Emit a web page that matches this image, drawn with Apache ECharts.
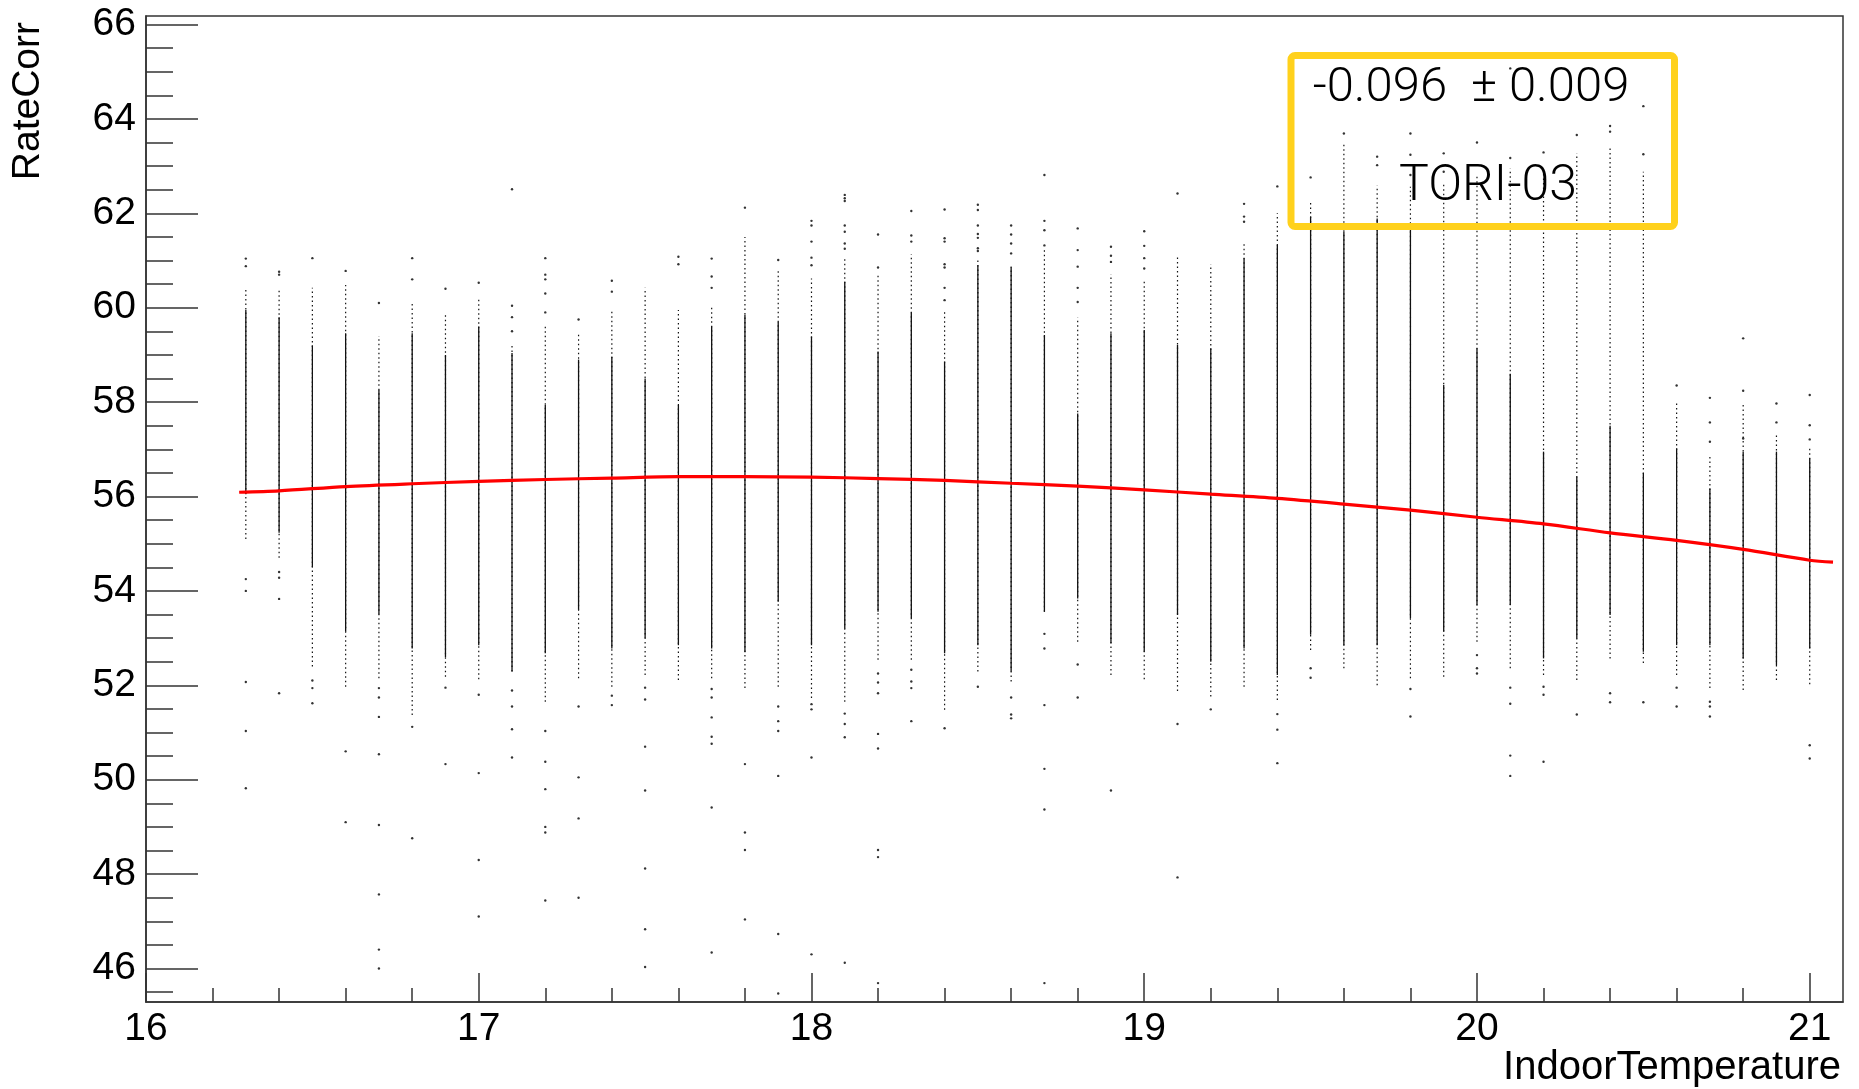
<!DOCTYPE html>
<html>
<head>
<meta charset="utf-8">
<script src="https://cdn.jsdelivr.net/npm/echarts@6/dist/echarts.min.js"></script>
<style>
html,body{margin:0;padding:0;background:#fff;}
#chart{width:1859px;height:1089px;}
</style>
</head>
<body>
<div id="chart"></div>
<script>
// ---------------- data ----------------
const colX   = [16.3,16.4,16.5,16.6,16.7,16.8,16.9,17.0,17.1,17.2,17.3,17.4,17.5,17.6,17.7,17.8,
                17.9,18.0,18.1,18.2,18.3,18.4,18.5,18.6,18.7,18.8,18.9,19.0,19.1,19.2,19.3,19.4,
                19.5,19.6,19.7,19.8,19.9,20.0,20.1,20.2,20.3,20.4,20.5,20.6,20.7,20.8,20.9,21.0];
// upper end of the sparse (dotted) part of each column
const spanHi = [60.40,60.40,60.42,60.48,59.40,60.10,59.90,60.20,59.20,59.60,59.44,59.94,60.42,59.95,60.00,61.50,
                60.83,60.62,61.05,60.69,61.13,59.95,61.00,60.87,61.26,59.79,60.71,60.59,61.12,60.92,61.38,62.00,
                62.23,63.45,62.59,62.56,62.67,62.81,62.95,62.88,63.27,63.38,62.88,57.97,56.84,58.00,57.34,57.02];
// dense core of each column
const coreHi = [59.95,59.80,59.20,59.46,58.26,59.46,59.00,59.60,59.04,57.94,58.90,58.96,58.50,57.94,59.60,59.85,
                59.70,59.39,60.55,59.07,59.90,58.86,60.90,60.87,59.42,57.76,59.46,59.53,59.21,59.14,61.05,61.33,
                61.93,61.61,61.89,61.68,58.36,59.14,58.60,56.95,56.42,57.50,56.50,57.02,56.17,56.95,56.95,56.81];
const coreLo = [56.05,55.23,54.50,53.14,53.50,52.78,52.60,52.85,52.29,52.68,53.60,52.78,53.00,52.85,52.78,52.70,
                53.77,52.85,53.20,53.56,53.42,52.68,52.85,52.29,53.56,53.84,52.89,52.71,53.49,52.50,52.78,52.22,
                53.07,52.85,52.85,53.42,53.14,53.70,53.70,52.57,52.99,53.49,52.71,52.85,52.85,52.57,52.43,52.78];
// lower end of the sparse (dotted) part of each column
const spanLo = [55.10,54.70,52.40,51.97,52.15,51.37,52.18,52.13,52.29,51.65,52.15,51.97,52.22,52.11,52.15,51.94,
                51.97,51.73,51.65,52.54,52.54,51.48,52.29,52.08,53.56,52.92,52.22,52.13,51.88,51.76,51.97,51.69,
                52.75,52.36,52.00,52.15,52.18,52.92,52.36,52.22,52.11,52.57,52.47,52.22,51.94,51.90,52.11,52.02];
// isolated points
const outliers = [
 [16.3,61.04],[16.3,60.88],[16.3,54.25],[16.3,54.0],[16.3,52.07],[16.3,51.03],[16.3,49.82],
 [16.4,60.76],[16.4,60.70],[16.4,54.40],[16.4,54.28],[16.4,53.83],[16.4,51.83],
 [16.5,61.05],[16.5,52.10],[16.5,51.94],[16.5,51.62],
 [16.6,60.78],[16.6,50.60],[16.6,49.10],
 [16.7,60.10],[16.7,51.94],[16.7,51.74],[16.7,51.33],[16.7,50.54],[16.7,49.04],[16.7,47.57],[16.7,46.40],[16.7,46.00],
 [16.8,61.05],[16.8,60.60],[16.8,51.12],[16.8,48.76],
 [16.9,60.40],[16.9,51.95],[16.9,50.33],
 [17.0,60.53],[17.0,51.80],[17.0,50.14],[17.0,48.30],[17.0,47.10],
 [17.1,62.51],[17.1,60.04],[17.1,59.80],[17.1,59.50],[17.1,51.89],[17.1,51.55],[17.1,51.07],[17.1,50.47],
 [17.2,61.05],[17.2,60.70],[17.2,60.60],[17.2,60.30],[17.2,59.90],[17.2,51.03],[17.2,50.38],[17.2,49.80],[17.2,49.00],[17.2,48.88],[17.2,47.44],
 [17.3,59.75],[17.3,51.55],[17.3,50.05],[17.3,49.18],[17.3,47.50],
 [17.4,60.57],[17.4,60.34],[17.4,51.78],[17.4,51.58],
 [17.5,51.95],[17.5,51.70],[17.5,50.70],[17.5,49.77],[17.5,48.12],[17.5,46.83],[17.5,46.03],
 [17.6,61.08],[17.6,60.92],
 [17.7,61.04],[17.7,60.66],[17.7,60.42],[17.7,51.92],[17.7,51.74],[17.7,51.32],[17.7,50.91],[17.7,50.76],[17.7,49.41],[17.7,46.34],
 [17.8,62.12],[17.8,50.33],[17.8,48.88],[17.8,48.51],[17.8,47.04],
 [17.9,61.01],[17.9,51.55],[17.9,51.24],[17.9,51.03],[17.9,50.08],[17.9,46.73],[17.9,45.47],
 [18.0,61.84],[18.0,61.74],[18.0,61.40],[18.0,61.06],[18.0,60.90],[18.0,51.60],[18.0,51.49],[18.0,50.47],[18.0,46.30],
 [18.1,62.39],[18.1,62.32],[18.1,62.26],[18.1,61.74],[18.1,61.61],[18.1,61.36],[18.1,61.25],[18.1,51.40],[18.1,51.18],[18.1,50.90],[18.1,46.12],
 [18.2,61.55],[18.2,60.85],[18.2,52.25],[18.2,52.06],[18.2,51.83],[18.2,50.97],[18.2,50.66],[18.2,48.51],[18.2,48.36],[18.2,45.69],
 [18.3,62.05],[18.3,61.53],[18.3,61.40],[18.3,52.33],[18.3,52.08],[18.3,51.94],[18.3,51.24],
 [18.4,62.08],[18.4,61.47],[18.4,61.40],[18.4,60.92],[18.4,60.85],[18.4,60.42],[18.4,60.16],[18.4,51.09],
 [18.5,62.18],[18.5,62.07],[18.5,61.74],[18.5,61.56],[18.5,61.48],[18.5,61.26],[18.5,61.20],[18.5,51.97],
 [18.6,61.74],[18.6,61.55],[18.6,61.36],[18.6,61.15],[18.6,51.74],[18.6,51.38],[18.6,51.30],
 [18.7,62.81],[18.7,61.84],[18.7,61.64],[18.7,61.32],[18.7,53.09],[18.7,52.78],[18.7,51.58],[18.7,50.23],[18.7,49.37],[18.7,45.69],
 [18.8,61.68],[18.8,61.22],[18.8,60.87],[18.8,60.42],[18.8,60.12],[18.8,52.44],[18.8,51.74],
 [18.9,61.29],[18.9,61.10],[18.9,60.97],[18.9,49.77],
 [19.0,61.62],[19.0,61.31],[19.0,61.05],[19.0,60.83],
 [19.1,62.42],[19.1,51.18],[19.1,47.93],
 [19.2,51.49],
 [19.3,62.20],[19.3,61.93],[19.3,61.82],
 [19.4,62.57],[19.4,51.39],[19.4,51.06],[19.4,50.35],
 [19.5,62.76],[19.5,52.36],[19.5,52.16],
 [19.6,63.69],
 [19.7,63.20],[19.7,63.02],
 [19.8,63.69],[19.8,63.24],[19.8,62.81],[19.8,51.92],[19.8,51.34],
 [19.9,63.27],[19.9,62.88],
 [20.0,63.50],[20.0,52.64],[20.0,52.36],[20.0,52.25],
 [20.1,65.07],[20.1,63.17],[20.1,51.95],[20.1,51.61],[20.1,50.51],[20.1,50.08],
 [20.2,63.29],[20.2,51.97],[20.2,51.80],[20.2,50.38],
 [20.3,63.66],[20.3,51.38],
 [20.4,63.85],[20.4,63.73],[20.4,51.83],[20.4,51.64],
 [20.5,64.27],[20.5,63.25],[20.5,51.64],
 [20.6,58.35],[20.6,51.95],[20.6,51.55],
 [20.7,58.09],[20.7,57.57],[20.7,57.16],[20.7,51.65],[20.7,51.55],[20.7,51.34],
 [20.8,59.35],[20.8,58.24],[20.8,57.23],
 [20.9,57.97],[20.9,57.57],
 [21.0,58.15],[21.0,57.51],[21.0,57.21],[21.0,50.73],[21.0,50.45]
];
// fitted curve (red)
const fitX = [16.28,16.4,16.6,16.8,17.0,17.2,17.4,17.6,17.8,18.0,18.2,18.4,18.6,18.8,19.0,19.2,19.4,19.6,19.8,20.0,20.2,20.4,20.6,20.8,21.0,21.07];
const fitY = [56.09,56.12,56.21,56.27,56.32,56.36,56.39,56.42,56.42,56.41,56.38,56.34,56.28,56.22,56.14,56.05,55.96,55.84,55.71,55.56,55.42,55.23,55.07,54.88,54.65,54.61];
// axis ticks
const xTickLabels = [16,17,18,19,20,21];
const yTickLabels = [46,48,50,52,54,56,58,60,62,64,66];
const xRange = [16, 21.1];
const yRange = [45.29, 66.18];
const boxLines = ['-0.096  \u00b1 0.009', 'TORI-03'];
const xTitle = 'IndoorTemperature';
const yTitle = 'RateCorr';

// ---------------- building the option ----------------
const xMinor = [];
for (let i = 0; i < xTickLabels.length - 1; i++) {
  for (let k = 1; k < 5; k++) xMinor.push(+(xTickLabels[i] + k * 0.2).toFixed(2));
}
const yMinor = [45.5];
for (let i = 0; i < yTickLabels.length - 1; i++) {
  for (let k = 1; k < 4; k++) yMinor.push(+(yTickLabels[i] + k * 0.5).toFixed(2));
}

const spanData = colX.map((x, i) => [x, spanLo[i], spanHi[i]]);
const coreData = colX.map((x, i) => [x, coreLo[i], coreHi[i]]);
const fitData = fitX.map((x, i) => [x, fitY[i]]);

function segRenderer(width, dash) {
  return function (params, api) {
    const p1 = api.coord([api.value(0), api.value(1)]);
    const p2 = api.coord([api.value(0), api.value(2)]);
    return {
      type: 'line',
      shape: { x1: p1[0], y1: p1[1], x2: p2[0], y2: p2[1] },
      style: { stroke: '#111', lineWidth: width, lineDash: dash }
    };
  };
}

const axisColor = '#333';
const labelFont = 'Liberation Sans';

const chart = echarts.init(document.getElementById('chart'), null, { renderer: 'canvas' });
chart.setOption({
  animation: false,
  backgroundColor: '#fff',
  grid: { left: 146, right: 16, top: 16, bottom: 87, show: true, borderColor: axisColor, borderWidth: 1.5, backgroundColor: 'transparent' },
  xAxis: [
    {
      type: 'value', min: xRange[0], max: xRange[1], position: 'bottom',
      axisLine: { show: true, onZero: false, lineStyle: { color: axisColor, width: 1.5 } },
      axisTick: { show: true, inside: true, length: 29, customValues: xTickLabels, lineStyle: { color: axisColor, width: 1.5 } },
      axisLabel: { show: true, customValues: xTickLabels, margin: 8, color: '#000', fontSize: 39, fontFamily: labelFont, formatter: v => String(v) },
      splitLine: { show: false }
    },
    {
      type: 'value', min: xRange[0], max: xRange[1], position: 'bottom',
      axisLine: { show: false },
      axisTick: { show: true, inside: true, length: 14, customValues: xMinor, lineStyle: { color: axisColor, width: 1.5 } },
      axisLabel: { show: false },
      splitLine: { show: false }
    }
  ],
  yAxis: [
    {
      type: 'value', min: yRange[0], max: yRange[1], position: 'left',
      axisLine: { show: true, onZero: false, lineStyle: { color: axisColor, width: 1.5 } },
      axisTick: { show: true, inside: true, length: 52, customValues: yTickLabels, lineStyle: { color: axisColor, width: 1.5 } },
      axisLabel: { show: true, customValues: yTickLabels, margin: 10, color: '#000', fontSize: 39, fontFamily: labelFont, formatter: v => String(v) },
      splitLine: { show: false }
    },
    {
      type: 'value', min: yRange[0], max: yRange[1], position: 'left',
      axisLine: { show: false },
      axisTick: { show: true, inside: true, length: 27, customValues: yMinor, lineStyle: { color: axisColor, width: 1.5 } },
      axisLabel: { show: false },
      splitLine: { show: false }
    }
  ],
  series: [
    {
      type: 'custom', name: 'sparse', xAxisIndex: 0, yAxisIndex: 0,
      renderItem: segRenderer(1.2, [1.5, 3]),
      encode: { x: 0, y: [1, 2] },
      data: spanData, z: 2
    },
    {
      type: 'custom', name: 'dense', xAxisIndex: 0, yAxisIndex: 0,
      renderItem: segRenderer(1.3, null),
      encode: { x: 0, y: [1, 2] },
      data: coreData, z: 3
    },
    {
      type: 'scatter', name: 'points', xAxisIndex: 0, yAxisIndex: 0,
      symbol: 'circle', symbolSize: 2.4,
      itemStyle: { color: '#000' },
      data: outliers, z: 4
    },
    {
      type: 'line', name: 'fit', xAxisIndex: 0, yAxisIndex: 0,
      data: fitData, showSymbol: false, smooth: 0.3,
      lineStyle: { color: '#ff0000', width: 3.2 }, z: 5
    }
  ],
  graphic: [
    {
      type: 'rect', z: 10,
      shape: { x: 1291, y: 55.5, width: 383.5, height: 171, r: 4 },
      style: { fill: 'none', stroke: '#FFD11C', lineWidth: 7 }
    },
    {
      type: 'text', z: 11, x: 1471, y: 89,
      style: { text: boxLines[0], font: '300 49px Roboto', fill: '#000', align: 'center', verticalAlign: 'middle' }
    },
    {
      type: 'text', z: 11, x: 1488, y: 187,
      style: { text: boxLines[1], font: '300 50px Roboto', fill: '#000', align: 'center', verticalAlign: 'middle' }
    },
    {
      type: 'text', z: 11, x: 1841, y: 1068,
      style: { text: xTitle, font: '40px "Liberation Sans"', fill: '#000', align: 'right', verticalAlign: 'middle' }
    },
    {
      type: 'text', z: 11, x: 28, y: 22, rotation: Math.PI / 2,
      style: { text: yTitle, font: '39px "Liberation Sans"', fill: '#000', align: 'right', verticalAlign: 'middle' }
    }
  ]
});
</script>
</body>
</html>
